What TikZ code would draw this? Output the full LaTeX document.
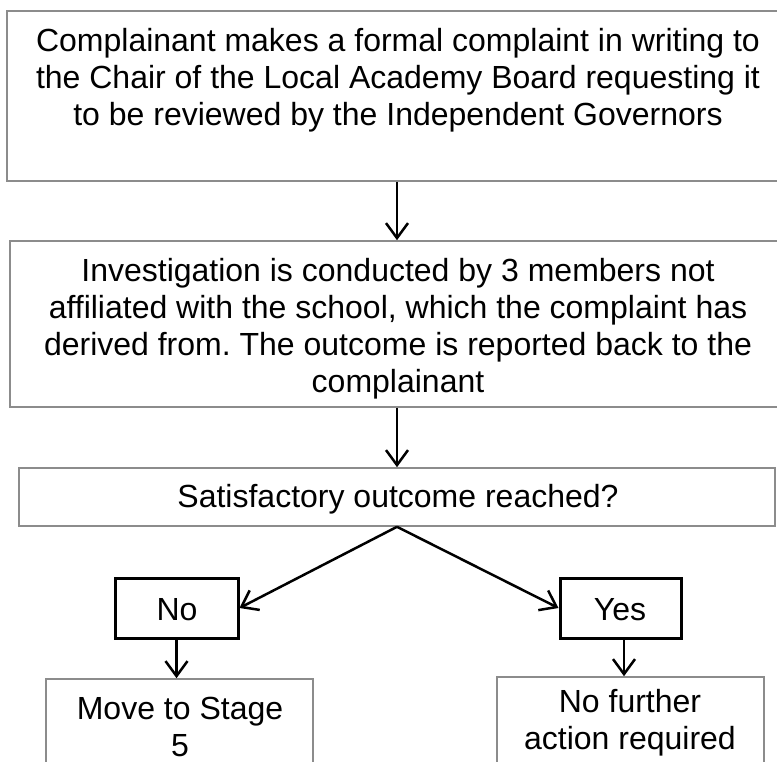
\documentclass[tikz,border=0pt]{standalone}
\usepackage{fontspec}
\setmainfont{Liberation Sans}
\usetikzlibrary{arrows.meta}
\frenchspacing
\tikzset{
  bigbox/.style={draw=black!45, line width=1.6pt, fill=white, rectangle, inner sep=0pt},
  ansbox/.style={draw=black, line width=3pt, fill=white, rectangle, inner sep=0pt},
  txt/.style={align=center, inner sep=0pt, font=\fontsize{32}{36.7}\selectfont},
  arr/.style={draw=black, line width=2.5pt, -{Straight Barb[length=15pt,width=22pt,line width=2.5pt]}}
}
\begin{document}
\begin{tikzpicture}[x=1pt,y=1pt]
\useasboundingbox (0,0) rectangle (777,-762);
\clip (0,0) rectangle (777,-762);
% boxes
\node[bigbox, minimum width=783pt, minimum height=170pt] (b1) at (398.5,-96) {};
\node[bigbox, minimum width=780pt, minimum height=166pt] (b2) at (400,-324) {};
\node[bigbox, minimum width=756pt, minimum height=58pt] (b3) at (397,-497) {};
\node[ansbox, minimum width=123pt, minimum height=60pt] (no) at (176.5,-608) {};
\node[ansbox, minimum width=121pt, minimum height=60pt] (yes) at (620.5,-608) {};
\node[bigbox, minimum width=267pt, minimum height=120pt] (bl) at (179.5,-739) {};
\node[bigbox, minimum width=267pt, minimum height=120pt] (br) at (630.5,-737) {};
% texts (base anchor = baseline of last line)
\node[txt, anchor=base] (t1) at (398,-125.4) {Complainant makes a formal complaint in writing to\\the Chair of the Local Academy Board requesting it\\to be reviewed by the Independent Governors};
\node[txt, anchor=base] (t2) at (398,-392) {Investigation is conducted by 3 members not\\affiliated with the school, which the complaint has\\derived from. The outcome is reported back to the\\complainant};
\node[txt, anchor=base] (t3) at (398,-507) {Satisfactory outcome reached?};
\node[txt, anchor=base] (tno) at (177,-620) {No};
\node[txt, anchor=base] (tyes) at (620,-620) {Yes};
\node[txt, anchor=base] (tbl) at (180,-756) {Move to Stage\\5};
\node[txt, anchor=base] (tbr) at (630,-749) {No further\\action required};
% connectors
\draw[arr] (b1.south -| b3.north) -- (b2.north -| b3.north);
\draw[arr] (b2.south -| b3.north) -- (b3.north);
\draw[arr] (b3.south) -- (no.east);
\draw[arr] (b3.south) -- (yes.west);
\draw[arr] (no.south) -- (no.south |- bl.north);
\draw[arr] ([xshift=3.5pt]yes.south) -- ([xshift=3.5pt]yes.south |- br.north);
\end{tikzpicture}
\end{document}
